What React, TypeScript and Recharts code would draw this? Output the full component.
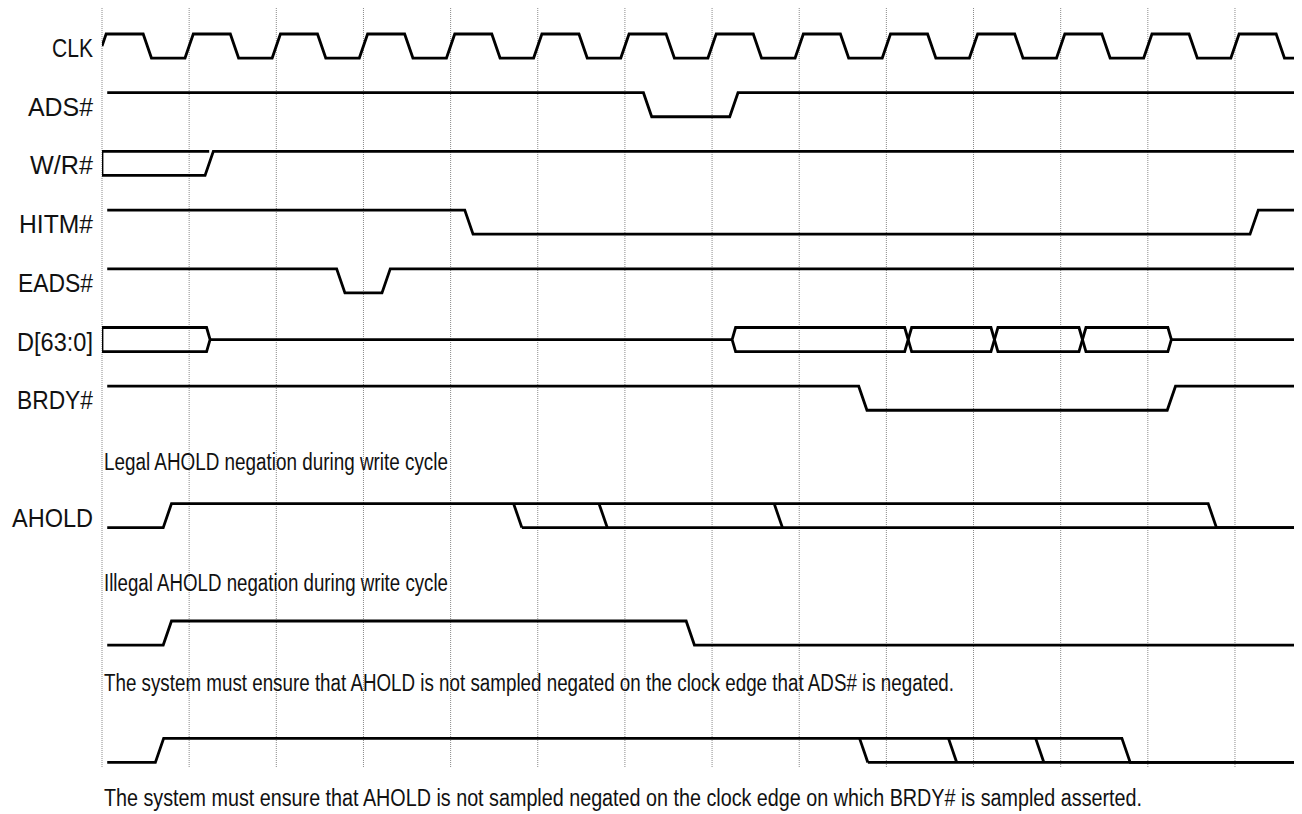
import React from 'react';
import { Line, LineChart, ReferenceLine, XAxis, YAxis } from 'recharts';

// x is measured in clock cycles (0 = first rising edge), y in signal rows

const signalNames = ['CLK', 'ADS#', 'W/R#', 'HITM#', 'EADS#', 'D[63:0]', 'BRDY#'];
const aholdName = 'AHOLD';
const gridCycles = [0, 1, 2, 3, 4, 5, 6, 7, 8, 9, 10, 11, 12, 13];

// edge times (cycles)
const clkEdges = [
    0.52, 1, 1.52, 2, 2.52, 3, 3.52, 4, 4.52, 5, 5.52, 6, 6.52, 7,
    7.52, 8, 8.52, 9, 9.52, 10, 10.52, 11, 11.52, 12, 12.52, 13, 13.52,
];
const adsEdges = [6.26, 7.25];
const wrEdges = [1.23];
const hitmEdges = [4.21, 13.22];
const eadsEdges = [2.74, 3.26];
const dataFirstEnd = 1.24;
const dataWindows = [
    [7.23, 9.25],
    [9.25, 10.24],
    [10.24, 11.25],
    [11.25, 12.27],
];
const brdyEdges = [8.73, 12.27];

const aholdLegalEdges = [0.75, 12.74];
const aholdLegalAlt = [4.77, 5.75, 7.76];
const aholdIllegalEdges = [0.75, 6.75];
const aholdBrdyEdges = [0.66, 11.75];
const aholdBrdyAlt = [8.74, 9.76, 10.76];

const notes = [
    'Legal AHOLD negation during write cycle',
    'Illegal AHOLD negation during write cycle',
    'The system must ensure that AHOLD is not sampled negated on the clock edge that ADS# is negated.',
    'The system must ensure that AHOLD is not sampled negated on the clock edge on which BRDY# is sampled asserted.',
];

// layout
const FONT = "'Liberation Sans', Arial, sans-serif";
const EDGE = 0.095;
const HEX = 0.04;
const SWING = 0.41;
const X_START = 0.06;
const X_END = 13.746;
const Y_TOP = -0.443;
const Y_BOTTOM = 13.288;
const GRID_BOTTOM = 12.5;
const noteRows = [7.29, 9.35, 11.06, 13.02];
const noteWidths = [344, 344, 850, 1038];
const labelRows = [0, 1, 2, 3, 4, 5, 6, 8];
const labelWidths = [41, 65, 63, 74, 75, 76, 76, 81];

type Pt = { x: number; y: number };

const lvl = (row: number, level: number) => row + (1 - level) * SWING;

function wave(row: number, t0: number, level0: number, edges: number[], t1: number): Pt[] {
    const pts: Pt[] = [{ x: t0, y: lvl(row, level0) }];
    let cur = level0;
    edges.forEach((e) => {
        pts.push({ x: e - EDGE / 2, y: lvl(row, cur) });
        cur = cur ? 0 : 1;
        pts.push({ x: e + EDGE / 2, y: lvl(row, cur) });
    });
    pts.push({ x: t1, y: lvl(row, cur) });
    return pts;
}

function hexagon(row: number, a: number, b: number): Pt[] {
    return [
        { x: a, y: lvl(row, 0.5) },
        { x: a + HEX, y: lvl(row, 1) },
        { x: b - HEX, y: lvl(row, 1) },
        { x: b, y: lvl(row, 0.5) },
        { x: b - HEX, y: lvl(row, 0) },
        { x: a + HEX, y: lvl(row, 0) },
        { x: a, y: lvl(row, 0.5) },
    ];
}

function altNegations(row: number, alts: number[]): Pt[][] {
    const segs = alts.map((a) => [
        { x: a - EDGE / 2, y: lvl(row, 1) },
        { x: a + EDGE / 2, y: lvl(row, 0) },
    ]);
    segs.push([
        { x: alts[0] + EDGE / 2, y: lvl(row, 0) },
        { x: X_END, y: lvl(row, 0) },
    ]);
    return segs;
}

const traces: Pt[][] = [];
// CLK starts half way up a rising edge
traces.push([{ x: 0, y: lvl(0, 0.5) }, ...wave(0, EDGE / 2, 1, clkEdges, X_END)]);
traces.push(wave(1, X_START, 1, adsEdges, X_END));
traces.push([{ x: 0, y: lvl(2, 1) }, ...wave(2, 0, 0, wrEdges, X_END)]);
traces.push([{ x: 0, y: lvl(2, 1) }, { x: wrEdges[0], y: lvl(2, 1) }]);
traces.push(wave(3, X_START, 1, hitmEdges, X_END));
traces.push(wave(4, X_START, 1, eadsEdges, X_END));
traces.push([
    { x: 0, y: lvl(5, 1) },
    { x: dataFirstEnd - HEX, y: lvl(5, 1) },
    { x: dataFirstEnd, y: lvl(5, 0.5) },
    { x: dataFirstEnd - HEX, y: lvl(5, 0) },
    { x: 0, y: lvl(5, 0) },
    { x: 0, y: lvl(5, 1) },
]);
traces.push([
    { x: dataFirstEnd, y: lvl(5, 0.5) },
    { x: dataWindows[0][0], y: lvl(5, 0.5) },
]);
dataWindows.forEach(([a, b]) => traces.push(hexagon(5, a, b)));
traces.push([
    { x: dataWindows[dataWindows.length - 1][1], y: lvl(5, 0.5) },
    { x: X_END, y: lvl(5, 0.5) },
]);
traces.push(wave(6, X_START, 1, brdyEdges, X_END));
traces.push(wave(8, X_START, 0, aholdLegalEdges, X_END));
traces.push(...altNegations(8, aholdLegalAlt));
traces.push(wave(10, X_START, 0, aholdIllegalEdges, X_END));
traces.push(wave(12, X_START, 0, aholdBrdyEdges, X_END));
traces.push(...altNegations(12, aholdBrdyAlt));

const tickLabels = [...signalNames, aholdName];

// condensed look: squeeze text to the width it has in the original
const SignalTick = (props: any) => {
    const { x, y, index } = props;
    return (
        <text
            x={x}
            y={y}
            dy="0.355em"
            textAnchor="end"
            fontSize={26}
            fontFamily={FONT}
            fill="#111"
            textLength={labelWidths[index]}
            lengthAdjust="spacingAndGlyphs"
        >
            {tickLabels[index]}
        </text>
    );
};

const noteLabel = (i: number) => (props: any) => {
    const vb = props.viewBox || {};
    return (
        <text
            x={vb.x + 2}
            y={vb.y}
            dy="0.355em"
            fontSize={23}
            fontFamily={FONT}
            fill="#111"
            textLength={noteWidths[i]}
            lengthAdjust="spacingAndGlyphs"
        >
            {notes[i]}
        </text>
    );
};

const App: React.FC = () => {
    return (
        <div style={{ width: 1292, height: 806 }}>
            <LineChart width={1292} height={806} margin={{ top: 0, right: 0, bottom: 0, left: 0 }}>
                <XAxis type="number" dataKey="x" domain={[0, X_END]} allowDataOverflow hide />
                <YAxis
                    type="number"
                    domain={[Y_TOP, Y_BOTTOM]}
                    reversed
                    allowDataOverflow
                    width={94}
                    axisLine={false}
                    tickLine={false}
                    tickSize={0}
                    tickMargin={9}
                    interval={0}
                    ticks={labelRows.map((r) => r + SWING / 2 + 0.03)}
                    tick={<SignalTick />}
                />
                {gridCycles.map((k) => (
                    <ReferenceLine
                        key={`g${k}`}
                        segment={[{ x: k, y: Y_TOP }, { x: k, y: GRID_BOTTOM }]}
                        stroke="#8a8a8a"
                        strokeDasharray="1 1"
                        strokeWidth={1}
                    />
                ))}
                {notes.map((n, i) => (
                    <ReferenceLine key={`n${i}`} y={noteRows[i]} stroke="none" label={noteLabel(i)} />
                ))}
                {traces.map((pts, i) => (
                    <Line
                        key={`t${i}`}
                        data={pts}
                        dataKey="y"
                        type="linear"
                        stroke="#000"
                        strokeWidth={2.8}
                        dot={false}
                        activeDot={false}
                        isAnimationActive={false}
                    />
                ))}
            </LineChart>
        </div>
    );
};

export default App;
